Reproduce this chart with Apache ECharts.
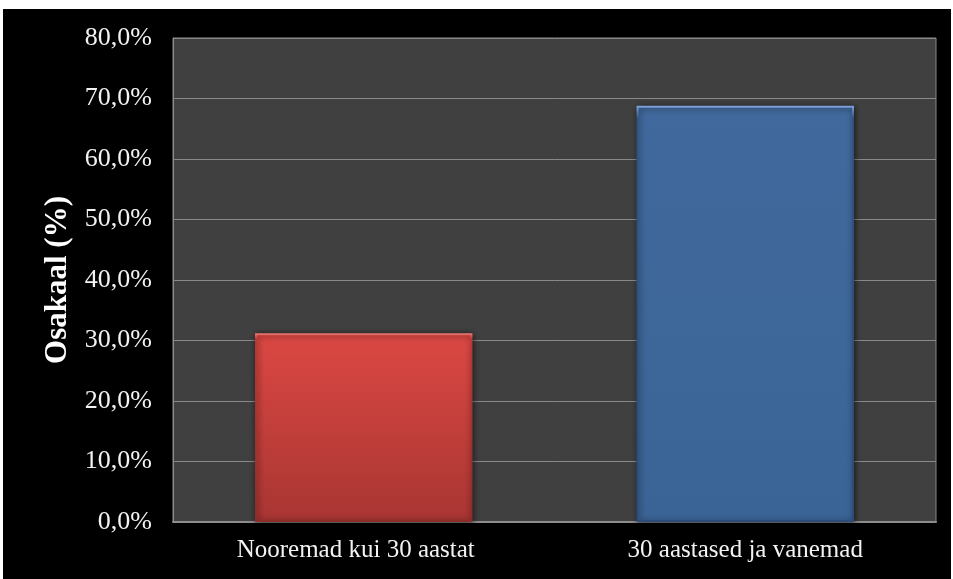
<!DOCTYPE html>
<html>
<head>
<meta charset="utf-8">
<script src="https://cdn.jsdelivr.net/npm/echarts@6/dist/echarts.min.js"></script>
<style>
  html, body { margin: 0; padding: 0; background: #ffffff; width: 953px; height: 579px; overflow: hidden; }
  #chart { position: absolute; left: 3px; top: 9px; width: 948px; height: 570px; }
</style>
</head>
<body>
<div id="chart"></div>
<script>
// Share of respondents by age group
const categories = ['Nooremad kui 30 aastat', '30 aastased ja vanemad'];
const shares = [31.2, 68.8];
const barColors = [
  ['#dc4843', '#a83532'],
  ['#41699d', '#3b6496']
];
const yAxisTitle = 'Osakaal (%)';

const chart = echarts.init(document.getElementById('chart'));

const seriesData = shares.map((v, i) => ({
  value: v,
  itemStyle: {
    color: new echarts.graphic.LinearGradient(0, 0, 0, 1, [
      { offset: 0, color: barColors[i][0] },
      { offset: 1, color: barColors[i][1] }
    ]),
    borderColor: new echarts.graphic.LinearGradient(0, 0, 0, 1, [
      { offset: 0, color: i === 0 ? '#f07a72' : '#7ea6dc' },
      { offset: 0.03, color: i === 0 ? '#b63a36' : '#2f5482' },
      { offset: 1, color: i === 0 ? '#8e2c29' : '#2b4d78' }
    ]),
    borderWidth: 2,
    shadowColor: 'rgba(0,0,0,0.6)',
    shadowBlur: 6,
    shadowOffsetX: 1,
    shadowOffsetY: 1
  }
}));

// first category label sits slightly left of its bar
const categoryData = categories.map((c, i) => ({
  value: c,
  textStyle: i === 0 ? { padding: [0, 16, 0, 0] } : {}
}));

chart.setOption({
  backgroundColor: '#000000',
  animation: false,
  grid: { left: 170, top: 29, right: 15, bottom: 57, show: true, backgroundColor: '#404040', borderColor: '#888888', borderWidth: 1 },
  xAxis: {
    type: 'category',
    data: categoryData,
    axisLine: { show: true, lineStyle: { color: '#8c8c8c', width: 2 } },
    axisTick: { show: false },
    axisLabel: { color: '#f2f2f2', fontFamily: 'Liberation Serif', fontSize: 25, margin: 16 }
  },
  yAxis: {
    type: 'value',
    min: 0,
    max: 80,
    interval: 10,
    name: yAxisTitle,
    nameLocation: 'middle',
    nameGap: 98,
    nameRotate: 90,
    nameTextStyle: { color: '#ffffff', fontFamily: 'Liberation Serif', fontSize: 31, fontWeight: 'bold' },
    axisLine: { show: true, lineStyle: { color: '#8c8c8c', width: 1 } },
    axisTick: { show: false },
    splitLine: { show: true, lineStyle: { color: '#8a8a8a', width: 1 } },
    axisLabel: {
      color: '#f2f2f2', fontFamily: 'Liberation Serif', fontSize: 26, margin: 21,
      formatter: v => v.toFixed(1).replace('.', ',') + '%'
    }
  },
  series: [{
    type: 'bar',
    data: seriesData,
    barWidth: '57%'
  }]
});
</script>
</body>
</html>
